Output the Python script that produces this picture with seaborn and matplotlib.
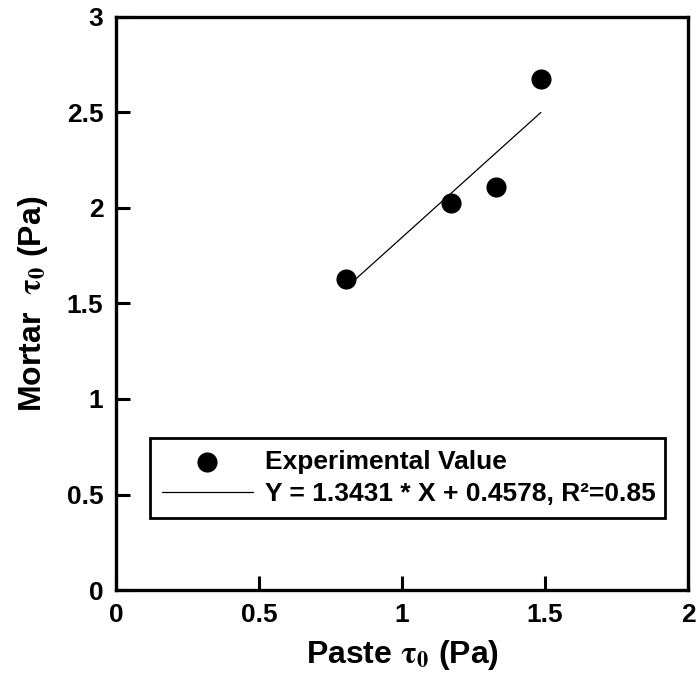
import matplotlib
matplotlib.use("Agg")
import matplotlib.pyplot as plt
import seaborn as sns
import pandas as pd

# data
paste_tau = [0.805, 1.172, 1.328, 1.486]
mortar_tau = [1.628, 2.025, 2.110, 2.675]
fit_x = [0.81, 1.485]
fit_y = [1.59, 2.50]

x_ticks = [0, 0.5, 1, 1.5, 2]
y_ticks = [0, 0.5, 1, 1.5, 2, 2.5, 3]

sns.set_style("white")
plt.rcParams['font.family'] = ['Liberation Sans', 'DejaVu Sans']
plt.rcParams['font.weight'] = 'bold'
plt.rcParams['mathtext.fontset'] = 'stix'
plt.rcParams['text.color'] = 'black'
plt.rcParams['axes.labelcolor'] = 'black'
plt.rcParams['xtick.color'] = 'black'
plt.rcParams['ytick.color'] = 'black'

pts = pd.DataFrame({"paste": paste_tau, "mortar": mortar_tau})
fit = pd.DataFrame({"paste": fit_x, "mortar": fit_y})

fig = plt.figure(figsize=(6.98, 6.84), dpi=100)
ax = fig.add_axes([0.166, 0.1374, 0.82, 0.8378])

sns.scatterplot(data=pts, x="paste", y="mortar", ax=ax, color="black",
                s=210, edgecolor="black", linewidth=0, label="Experimental Value",
                zorder=3)
sns.lineplot(data=fit, x="paste", y="mortar", ax=ax, color="black", linewidth=0.9,
             label="Y = 1.3431 * X + 0.4578, R\u00b2=0.85")

ax.set_xlim(0, 2)
ax.set_ylim(0, 3)
ax.set_xticks(x_ticks)
ax.set_xticklabels(["0", "0.5", "1", "1.5", "2"])
ax.set_yticks(y_ticks)
ax.set_yticklabels(["0", "0.5", "1", "1.5", "2", "2.5", "3"])
ax.tick_params(direction="in", length=10, width=2.2, labelsize=19,
               bottom=True, left=True, top=False, right=False, pad=9)
for lab in ax.get_xticklabels() + ax.get_yticklabels():
    lab.set_fontweight("bold")
for s in ax.spines.values():
    s.set_linewidth(2.4)
    s.set_color("black")

ax.set_xlabel(r"Paste $\mathrm{\tau}_{0}$ (Pa)", fontsize=23, fontweight="bold", labelpad=8)
ax.set_ylabel(r"Mortar  $\mathrm{\tau}_{0}$ (Pa)", fontsize=23, fontweight="bold", labelpad=12)

leg = ax.legend(loc="lower left", bbox_to_anchor=(0.0594, 0.1257, 0.9, 0.14),
                mode="expand", frameon=True, fancybox=False,
                borderpad=0.45, handlelength=3.45, handletextpad=0.45,
                labelspacing=0.3, borderaxespad=0,
                prop={"weight": "bold", "size": 19})
leg.get_frame().set_edgecolor("black")
leg.get_frame().set_linewidth(2)
leg.get_frame().set_alpha(1)

fig.savefig("out.png", dpi=100)
